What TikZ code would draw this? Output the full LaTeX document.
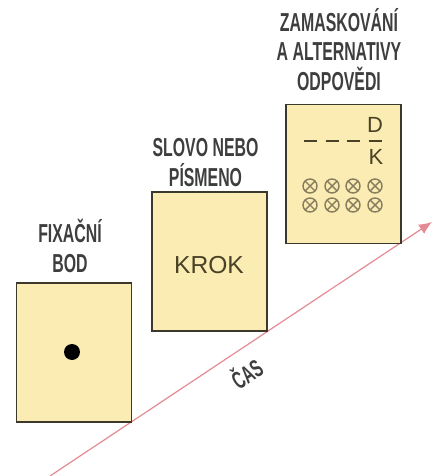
\documentclass[tikz,border=0pt]{standalone}
\usepackage{fontspec}
\setmainfont{Liberation Sans}
\newfontfamily\headfont{Liberation Sans}[FakeStretch=0.61]
\usetikzlibrary{arrows.meta}
\definecolor{boxfill}{RGB}{250,236,178}
\definecolor{boxdraw}{RGB}{60,56,44}
\definecolor{headgray}{RGB}{62,62,62}
\definecolor{inkbrown}{RGB}{74,66,38}
\definecolor{markgray}{RGB}{135,125,95}
\definecolor{timepink}{RGB}{228,140,150}
\begin{document}
\begin{tikzpicture}[
  x=0.02cm, y=-0.02cm,
  card/.style={draw=boxdraw, fill=boxfill, line width=1.1pt, minimum width=2.3cm, minimum height=2.78cm, inner sep=0pt},
  heading/.style={anchor=base, align=center, text=headgray, font=\headfont\bfseries\fontsize{14.8}{16.8}\selectfont},
  inktext/.style={anchor=base, text=inkbrown, font=\fontsize{14}{16}\selectfont},
  option/.style={draw=markgray, line width=0.8pt},
  timeline/.style={draw=timepink, line width=0.7pt, -{Latex[length=2.6mm,width=2.2mm]}}
]
  \useasboundingbox (0,0) rectangle (434,476);

  % time axis
  \coordinate (tstart) at (50,476);
  \coordinate (tend) at (432,222);
  \draw[timeline] (tstart) -- (tend);
  \node[heading, anchor=center, rotate=33.6, font=\headfont\bfseries\fontsize{14}{16}\selectfont] (time) at (246,373) {ČAS};

  % fixation
  \node[card] (fix) at (74,352.5) {};
  \node[circle, fill=black, minimum size=0.32cm, inner sep=0pt] (fixdot) at (72,352) {};
  \node[heading] (fixlabel) at (70,272.5) {FIXAČNÍ\\BOD};

  % stimulus
  \node[card] (word) at (209.5,261.5) {};
  \node[inktext] (step) at (209,273.5) {KROK};
  \node[heading] (wordlabel) at (205.5,186.5) {SLOVO NEBO\\PÍSMENO};

  % mask and answers
  \node[card] (mask) at (343.5,174) {};
  \node[inktext, font=\fontsize{12.5}{14}\selectfont] (ansD) at (375,133) {D};
  \node[inktext, font=\fontsize{12.5}{14}\selectfont] (ansK) at (376,165) {K};
  \foreach \x in {310,332,353,375} {
    \draw[option, draw=inkbrown] (\x-6.5,141) -- (\x+6.5,141);
    \foreach \y in {186,205} {
      \draw[option] (\x,\y) circle (7);
      \draw[option] (\x-5,\y-5) -- (\x+5,\y+5);
      \draw[option] (\x-5,\y+5) -- (\x+5,\y-5);
    }
  }
  \node[heading] (masklabel) at (339,90.5) {ZAMASKOVÁNÍ\\A ALTERNATIVY\\ODPOVĚDI};
\end{tikzpicture}
\end{document}
